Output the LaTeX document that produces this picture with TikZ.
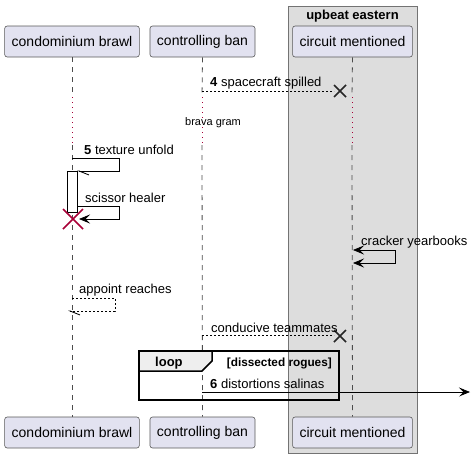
\documentclass[tikz,border=0pt]{standalone}
\usepackage{fontspec}
\setmainfont{Liberation Sans}
\usetikzlibrary{positioning,arrows.meta}
\definecolor{colorpart}{HTML}{E2E2F0}
\definecolor{colorgroup}{HTML}{DDDDDD}
\definecolor{colorkill}{HTML}{A80036}
\definecolor{colortab}{HTML}{EEEEEE}
\tikzset{
  part/.style={draw=gray!70!black, fill=colorpart, rounded corners=2.5pt, line width=0.6pt,
    inner xsep=7pt, minimum height=31pt, font=\fontsize{14}{16}\selectfont},
  groupbox/.style={draw=gray!90!black, fill=colorgroup, line width=0.8pt},
  lifeline/.style={gray!60!black, line width=0.8pt, dash pattern=on 5pt off 5pt},
  delayline/.style={colorkill, line width=1pt, dash pattern=on 1pt off 4pt},
  msg/.style={black, line width=0.8pt},
  msgret/.style={msg, dash pattern=on 2pt off 2pt},
  tipfull/.style={-{Stealth[length=11pt,width=9pt,inset=4.5pt]}},
  tiphalf/.style={-{Straight Barb[harpoon,length=10pt,width=8pt]}},
  killx/.style={line width=1.6pt},
  lbl/.style={anchor=base west, inner sep=0pt, font=\fontsize{13}{15}\selectfont},
  lblsmall/.style={anchor=base west, inner sep=0pt, font=\fontsize{11}{13}\selectfont},
  looptab/.style={draw=black, fill=colortab, line width=1.5pt}
}

\begin{document}
\begin{tikzpicture}[x=1pt, y=-1pt, inner sep=0pt]
\useasboundingbox (0,0) rectangle (473,458);

\draw[groupbox] (288,6) rectangle (417,453);
\node[anchor=base, font=\fontsize{13}{15}\selectfont\bfseries] (ue) at (352.5,19)
{upbeat eastern};

% participants
\node[part] (cb) at (72,41.5) {condominium brawl};
\node[part] (cl) at (202.5,41.5) {controlling ban};
\node[part] (cm) at (352.5,41.5) {circuit mentioned};
\node[part] (cbb) at (72,432.5) {condominium brawl};
\node[part] (clb) at (202.5,432.5) {controlling ban};
\node[part] (cmb) at (352.5,432.5) {circuit mentioned};

\foreach \p/\x in {cb/72, cl/202, cm/352}{
  \coordinate (\p-d) at (\x,97);
  \coordinate (\p-e) at (\x,145);
  \draw[lifeline] (\p.south) -- (\p-d);
  \draw[delayline] (\p-d) -- (\p-e);
  \draw[lifeline] (\p-e) -- (\p b.north);
}

% 4
\coordinate (m4a) at (202,91);
\coordinate (m4x) at (340,91);
\draw[msgret] (m4a) -- ++(132,0);
\draw[killx, black!85] (m4x) +(-6,-6) -- +(6,6) +(-6,6) -- +(6,-6);
\node[lbl] (l4) at (210,86) {\textbf{4} spacecraft spilled};

\node[lblsmall] (dl) at (185,125) {brava gram};

% 5
\coordinate (m5a) at (72,158);
\coordinate (m5b) at (119,158);
\coordinate (m5c) at (119,171);
\coordinate (m5d) at (77,171);
\draw[msg, tiphalf] (m5a) -- (m5b) -- (m5c) -- (m5d);
\node[lbl] (l5) at (84,154) {\textbf{5} texture unfold};

\node[draw=black, fill=white, line width=0.8pt, minimum width=10pt, minimum height=41pt]
(act) at (72,191.5) {};

\coordinate (m7a) at (77,206);
\coordinate (m7b) at (119,206);
\coordinate (m7c) at (119,219);
\coordinate (m7d) at (79,219);
\draw[msg, tipfull] (m7a) -- (m7b) -- (m7c) -- (m7d);
\node[lbl] (l7) at (85,202) {scissor healer};
\draw[killx, colorkill] (73,219) +(-10,-10) -- +(10,10) +(-10,10) -- +(10,-10);

\coordinate (m8a) at (353,250);
\coordinate (m8b) at (395,250);
\coordinate (m8c) at (395,263);
\coordinate (m8d) at (353,263);
\draw[msg, {Stealth[length=11pt,width=9pt,inset=4.5pt]}-{Stealth[length=11pt,width=9pt,inset=4.5pt]}]
(m8a) -- (m8b) -- (m8c) -- (m8d);
\node[lbl] (l8) at (361,245) {cracker yearbooks};

\coordinate (m9a) at (72,298);
\coordinate (m9b) at (115,298);
\coordinate (m9c) at (115,311);
\coordinate (m9d) at (68,311);
\draw[msgret, tiphalf] (m9a) -- (m9b) -- (m9c) -- (m9d);
\node[lbl] (l9) at (79,293) {appoint reaches};

\coordinate (m10a) at (202,335);
\coordinate (m10x) at (340,336);
\draw[msgret] (m10a) -- ++(132,0);
\draw[killx, black!85] (m10x) +(-6,-6) -- +(6,6) +(-6,6) -- +(6,-6);
\node[lbl] (l10) at (211,332) {conducive teammates};

% loop
\draw[black, line width=1.5pt] (139,351) rectangle (339,400);
\draw[looptab] (139,351) -- (212,351) -- (212,361) -- (202,371) -- (139,371) -- cycle;
\node[lbl, font=\fontsize{13}{15}\selectfont\bfseries] (lp) at (155,366) {loop};
\node[lbl, anchor=base east, font=\fontsize{11.8}{13}\selectfont\bfseries] (lg) at (332,366)
{[dissected rogues]};

\coordinate (m6a) at (202,392);
\coordinate (m6b) at (470,392);
\draw[msg, tipfull] (m6a) -- (m6b);
\node[lbl] (l6) at (210,388) {\textbf{6} distortions salinas};
\end{tikzpicture}
\end{document}
